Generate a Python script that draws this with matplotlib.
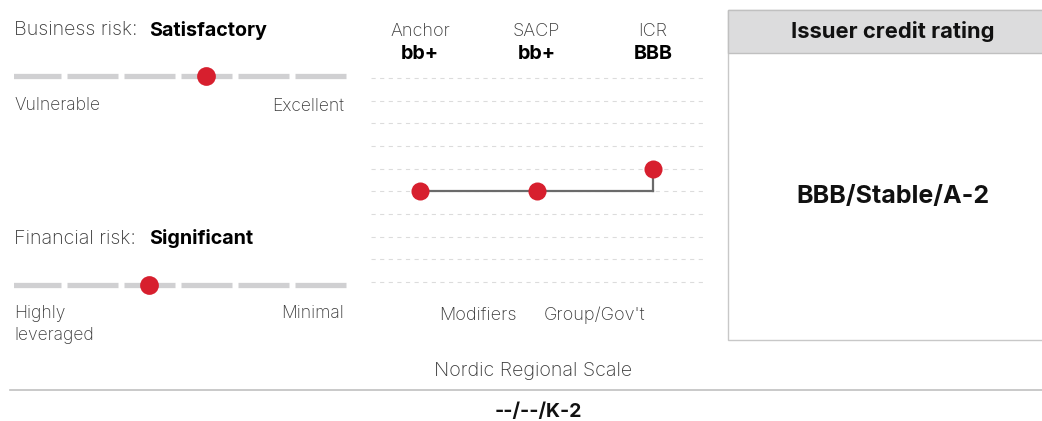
import matplotlib
matplotlib.use("Agg")
import matplotlib.pyplot as plt
from matplotlib.patches import Rectangle

plt.rcParams['font.family'] = ['Inter', 'DejaVu Sans']
plt.rcParams['lines.scale_dashes'] = False

# data
business_scale = ["Vulnerable", "Weak", "Fair", "Satisfactory", "Strong", "Excellent"]
business_value = "Satisfactory"
financial_scale = ["Highly leveraged", "Aggressive", "Significant", "Intermediate", "Modest", "Minimal"]
financial_value = "Significant"

steps = ["Anchor", "SACP", "ICR"]
step_ratings = ["bb+", "bb+", "BBB"]
step_levels = [4, 4, 5]          # rung on the ladder, 0 = bottom
n_levels = 10
modifiers = ["Modifiers", "Group/Gov't"]

icr_text = "BBB/Stable/A-2"
regional_scale = "Nordic Regional Scale"
regional_text = "--/--/K-2"

W, H = 1042, 421
RED = "#d71f2e"
GREY_TXT = "#3a3a3a"
TITLE = dict(fontsize=14.2, color=GREY_TXT, fontweight="light")
LIGHT = dict(fontsize=12.6, color=GREY_TXT, fontweight="light")
BOLD = dict(fontsize=14.2, color="black", fontweight="bold")

fig = plt.figure(figsize=(W / 100, H / 100), dpi=100)


def px_axes(x0, y0, x1, y1):
    # axes from pixel box (top-left origin)
    return fig.add_axes([x0 / W, 1 - y1 / H, (x1 - x0) / W, (y1 - y0) / H])


# overlay in pixel coords for text and boxes
base = px_axes(0, 0, W, H)
base.set_xlim(0, W)
base.set_ylim(H, 0)
base.axis("off")


def slider(y, scale, value):
    ax = px_axes(14, y - 12, 352, y + 12)
    ax.set_xlim(0.07, len(scale))   # first segment is cut at the left edge
    ax.set_ylim(-1, 1)
    ax.axis("off")
    for i in range(len(scale)):
        ax.plot([i, i + 0.895], [0, 0], color="#d0d0d2", lw=3.8,
                solid_capstyle="butt")
    idx = scale.index(value)
    ax.plot(idx + 0.447, 0, "o", color=RED, ms=13.5, mec="none", clip_on=False)


# business risk
base.text(14, 30, "Business risk:", va="center", **TITLE)
base.text(149, 30, business_value, va="center", **BOLD)
slider(76, business_scale, business_value)
base.text(14, 106, business_scale[0], va="center", **LIGHT)
base.text(344, 106, business_scale[-1], va="center", ha="right", **LIGHT)

# financial risk
base.text(14, 239, "Financial risk:", va="center", **TITLE)
base.text(149, 239, financial_value, va="center", **BOLD)
slider(285, financial_scale, financial_value)
base.text(14, 314, "Highly", va="center", **LIGHT)
base.text(14, 335, "leveraged", va="center", **LIGHT)
base.text(344, 314, financial_scale[-1], va="center", ha="right", **LIGHT)

# rating ladder
lad = px_axes(371, 70, 703, 290)
unit = (653 - 420) / 2
lad.set_xlim(-(420 - 371) / unit, (703 - 420) / unit)
lad.set_ylim(-(290 - 282) / 22.67, (n_levels - 1) + (78 - 70) / 22.67)
lad.axis("off")
for lv in range(n_levels):
    lad.axhline(lv, color="#dcdcdc", lw=0.8, dashes=(3, 3.2))
xs = list(range(len(steps)))
# connector: flat then step up at the last column
lad.plot(xs, [step_levels[0], step_levels[1], step_levels[1]], color="#6a6a6a", lw=1.6, zorder=2)
lad.plot([xs[2], xs[2]], [step_levels[1], step_levels[2]], color="#6a6a6a", lw=1.6, zorder=2)
lad.plot(xs, step_levels, "o", color=RED, ms=13, mec="none", zorder=3)

for x, name, r in zip(xs, steps, step_ratings):
    px = 420 + x * unit
    base.text(px, 36, name, ha="center", va="baseline", **dict(LIGHT, fontsize=13))
    base.text(px, 59, r, ha="center", va="baseline", **BOLD)
for i, m in enumerate(modifiers):
    px = 420 + (i + 0.5) * unit
    base.text(px, 315, m, ha="center", va="center", **dict(LIGHT, fontsize=13))

# issuer credit rating box
base.add_patch(Rectangle((727.5, 9.5), 330, 330.5, fill=False, ec="#c8c8c8", lw=1))
base.add_patch(Rectangle((727.5, 9.5), 330, 43.5, fc="#dcdcdd", ec="#c0c0c0", lw=1))
base.text(893, 32, "Issuer credit rating", fontsize=15.8, fontweight="bold", color="#111111",
          ha="center", va="center")
base.text(893, 196, icr_text, fontsize=18, fontweight="bold", color="#111111",
          ha="center", va="center")

# regional scale
base.text(533, 371, regional_scale, ha="center", va="center",
          fontsize=14.2, color=GREY_TXT, fontweight="light")
base.plot([10, W], [390, 390], color="#c0c0c0", lw=1.2)
base.text(538, 412, regional_text, fontsize=14, fontweight="bold", color="#111111",
          ha="center", va="center")

fig.savefig("out.png", dpi=100)
